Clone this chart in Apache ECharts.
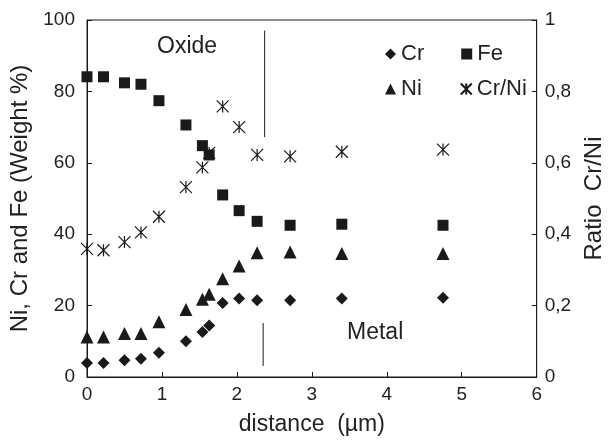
<!DOCTYPE html>
<html>
<head>
<meta charset="utf-8">
<script src="https://cdn.jsdelivr.net/npm/echarts@6/dist/echarts.min.js"></script>
<style>
    html, body { margin: 0; padding: 0; background: #fff; }
    #chart { width: 614px; height: 441px; }
</style>
</head>
<body>
<div id="chart"></div>
<script>
// profile data
const distance = [0, 0.22, 0.5, 0.72, 0.96, 1.32, 1.54, 1.63, 1.81, 2.03, 2.27, 2.71, 3.4, 4.75];
const fe = [84.1, 84.1, 82.4, 82.0, 77.4, 70.6, 64.8, 62.2, 51.0, 46.6, 43.6, 42.5, 42.8, 42.5];
const ni = [11.2, 11.2, 12.2, 12.2, 15.5, 18.9, 21.8, 23.2, 27.5, 31.1, 34.8, 35.0, 34.6, 34.6];
const cr = [3.9, 3.9, 4.7, 5.1, 6.8, 10.0, 12.6, 14.4, 20.7, 22.0, 21.5, 21.5, 22.0, 22.2];
const crNiRatio = [0.359, 0.355, 0.378, 0.405, 0.449, 0.532, 0.587, 0.628, 0.758, 0.70, 0.622, 0.618, 0.631, 0.637];

// oxide / metal boundary marks
const oxideDivider = [[2.37, 97], [2.37, 67.2]];
const metalDivider = [[2.35, 15.1], [2.35, 3.1]];

const leftTicks = [0, 20, 40, 60, 80, 100];
const rightTicks = ['0', '0,2', '0,4', '0,6', '0,8', '1'];

const ink = '#1a1a1a';
const font = 'Liberation Sans, Arial, sans-serif';
const starPath = 'path://M0,0L10,10M0,10L10,0M5,0L5,10';

function pairs(ys) {
    return distance.map((x, i) => [x, ys[i]]);
}

const chart = echarts.init(document.getElementById('chart'));

const option = {
    animation: false,
    textStyle: { fontFamily: font, color: '#222' },
    grid: {
        left: 86,
        right: 69,
        top: 20,
        bottom: 58,
        show: true,
        borderColor: ink,
        borderWidth: 1
    },
    legend: [
        {
            left: 380,
            top: 38,
            itemGap: 37,
            itemWidth: 11,
            itemHeight: 11,
            textStyle: { fontSize: 22, color: '#222', fontFamily: font },
            data: ['Cr', 'Fe']
        },
        {
            left: 380,
            top: 73,
            itemGap: 38,
            itemWidth: 11,
            itemHeight: 11,
            textStyle: { fontSize: 22, color: '#222', fontFamily: font },
            data: ['Ni', 'Cr/Ni']
        }
    ],
    xAxis: {
        type: 'value',
        min: 0,
        max: 6,
        interval: 1,
        name: 'distance  (µm)',
        nameLocation: 'middle',
        nameGap: 36,
        nameTextStyle: { fontSize: 23, color: '#222', fontFamily: font },
        axisLine: { lineStyle: { color: ink, width: 1 } },
        axisTick: { inside: true, length: 5, lineStyle: { color: ink } },
        axisLabel: { fontSize: 19, color: '#222', margin: 8 },
        splitLine: { show: false }
    },
    yAxis: [
        {
            type: 'value',
            min: 0,
            max: 100,
            interval: 20,
            name: 'Ni, Cr and Fe (Weight %)',
            nameLocation: 'middle',
            nameGap: 55,
            nameTextStyle: { fontSize: 24, color: '#222', fontFamily: font },
            axisLine: { show: true, lineStyle: { color: ink, width: 1 } },
            axisTick: { show: true, inside: true, length: 5, lineStyle: { color: ink } },
            axisLabel: {
                fontSize: 19,
                color: '#222',
                margin: 12,
                formatter: (v) => (leftTicks.includes(v) ? String(v) : '')
            },
            splitLine: { show: false }
        },
        {
            type: 'value',
            min: 0,
            max: 1,
            interval: 0.2,
            position: 'right',
            name: 'Ratio  Cr/Ni',
            nameLocation: 'middle',
            nameGap: 42,
            nameTextStyle: { fontSize: 24, color: '#222', fontFamily: font },
            axisLine: { show: true, lineStyle: { color: ink, width: 1 } },
            axisTick: { show: true, inside: true, length: 5, lineStyle: { color: ink } },
            axisLabel: {
                fontSize: 19,
                color: '#222',
                margin: 8,
                formatter: (v) => rightTicks[Math.round(v * 5)]
            },
            splitLine: { show: false }
        }
    ],
    graphic: [
        {
            type: 'text',
            left: 157,
            top: 35,
            style: { text: 'Oxide', fontSize: 23, fill: '#222', fontFamily: font }
        },
        {
            type: 'text',
            left: 347,
            top: 321,
            style: { text: 'Metal', fontSize: 23, fill: '#222', fontFamily: font }
        }
    ],
    series: [
        {
            name: 'Cr',
            type: 'scatter',
            symbol: 'diamond',
            symbolSize: 12,
            itemStyle: { color: ink, opacity: 1 },
            data: pairs(cr)
        },
        {
            name: 'Fe',
            type: 'scatter',
            symbol: 'rect',
            symbolSize: 11,
            itemStyle: { color: ink, opacity: 1 },
            data: pairs(fe)
        },
        {
            name: 'Ni',
            type: 'scatter',
            symbol: 'triangle',
            symbolSize: 13,
            itemStyle: { color: ink, opacity: 1 },
            data: pairs(ni)
        },
        {
            name: 'Cr/Ni',
            type: 'scatter',
            yAxisIndex: 1,
            symbol: starPath,
            symbolSize: 12,
            itemStyle: { color: 'transparent', borderColor: ink, borderWidth: 1.2, opacity: 1 },
            data: pairs(crNiRatio)
        },
        {
            name: 'oxideDivider',
            type: 'line',
            data: oxideDivider,
            showSymbol: false,
            silent: true,
            lineStyle: { color: ink, width: 1 }
        },
        {
            name: 'metalDivider',
            type: 'line',
            data: metalDivider,
            showSymbol: false,
            silent: true,
            lineStyle: { color: ink, width: 1 }
        }
    ]
};

chart.setOption(option);
</script>
</body>
</html>
